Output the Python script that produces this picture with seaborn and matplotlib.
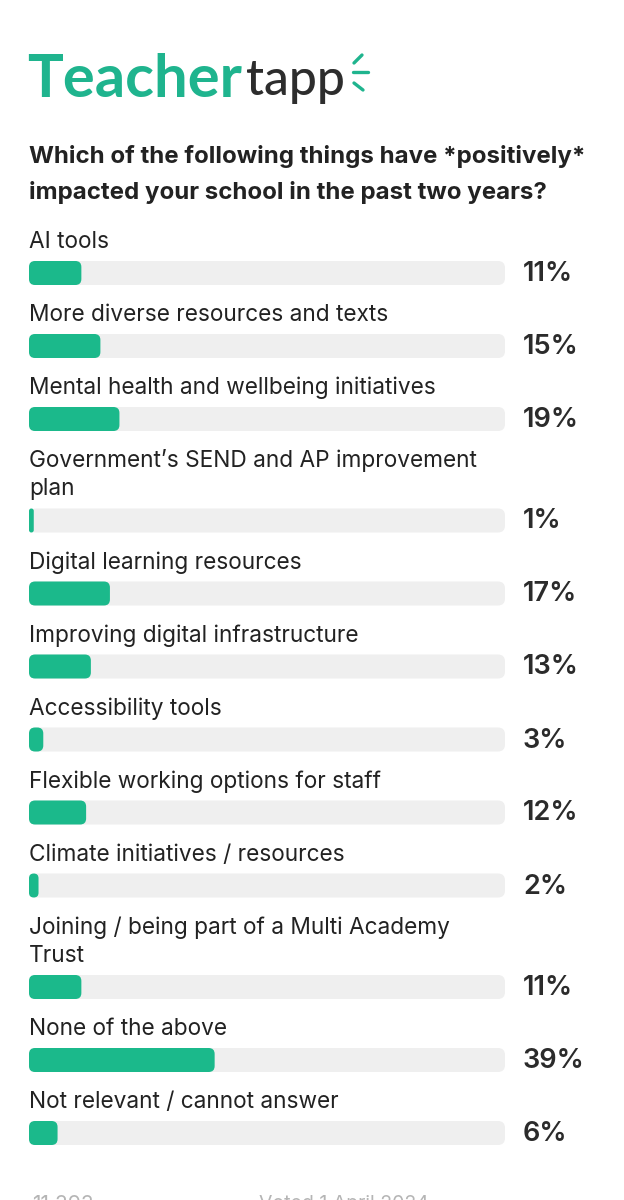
import numpy as np
import pandas as pd
import matplotlib
matplotlib.use("Agg")
import matplotlib.pyplot as plt
from matplotlib.patches import FancyBboxPatch
import seaborn as sns

# ---------------- data ----------------
categories = [
    "AI tools",
    "More diverse resources and texts",
    "Mental health and wellbeing initiatives",
    "Government\u2019s SEND and AP improvement\nplan",
    "Digital learning resources",
    "Improving digital infrastructure",
    "Accessibility tools",
    "Flexible working options for staff",
    "Climate initiatives / resources",
    "Joining / being part of a Multi Academy\nTrust",
    "None of the above",
    "Not relevant / cannot answer",
]
values = [11, 15, 19, 1, 17, 13, 3, 12, 2, 11, 39, 6]
value_labels = ["11%", "15%", "19%", "1%", "17%", "13%", "3%", "12%", "2%", "11%", "39%", "6%"]
title_lines = ["Which of the following things have *positively*",
               "impacted your school in the past two years?"]
footer_left = "11,393"
footer_right = "Voted 1 April 2024"

# ---------------- style ----------------
W, H, DPI = 624, 1200, 100
GREEN = "#1bb98b"
TRACK = "#efefef"
DARK = "#222222"
FONT = ["Inter", "DejaVu Sans"]

sns.set_theme(style="white")
plt.rcParams["font.family"] = FONT

fig = plt.figure(figsize=(W / DPI, H / DPI), dpi=DPI)
fig.patch.set_facecolor("white")

X0_PX, X100_PX = 29, 505
PX_PER_PCT = (X100_PX - X0_PX) / 100.0

ax = fig.add_axes([0, 0, 1, 1])


def fx(x):
    return x / W


def fy(y):
    return 1 - y / H


# ---------------- layout of rows ----------------
LINE_GAP = 28.5
label_y = []
bar_y = []
y = 242.0
for cat in categories:
    n = cat.count("\n") + 1
    label_y.append(y)
    last = y + (n - 1) * LINE_GAP
    b = last + 31.0
    bar_y.append(b)
    y = b + 42.0

df = pd.DataFrame({"pos": bar_y, "value": values, "track": [100] * len(values)})
native = float(np.min(np.diff(np.unique(df["pos"]))))
BAR_H = 24.0
width = BAR_H / native

sns.barplot(data=df, x="track", y="pos", orient="h", native_scale=True,
            color=TRACK, saturation=1, errorbar=None, width=width, ax=ax)
n_track = len(ax.patches)
sns.barplot(data=df, x="value", y="pos", orient="h", native_scale=True,
            color=GREEN, saturation=1, errorbar=None, width=width, ax=ax)

ax.set_xlim(-X0_PX / PX_PER_PCT, (W - X0_PX) / PX_PER_PCT)
ax.set_ylim(H, 0)
ax.axis("off")

# rounded corners
patches = list(ax.patches)
for i, p in enumerate(patches):
    x, yb = p.get_x(), p.get_y()
    w, h = p.get_width(), p.get_height()
    r_px = 7.0 if i < n_track else 6.0
    r = min(r_px / PX_PER_PCT, w / 2.0)
    fb = FancyBboxPatch((x, yb), w, h,
                        boxstyle=f"round,pad=0,rounding_size={r}",
                        mutation_aspect=PX_PER_PCT,
                        facecolor=p.get_facecolor(), edgecolor="none",
                        zorder=1 if i < n_track else 2)
    p.remove()
    ax.add_patch(fb)

# ---------------- text ----------------
for cat, ly in zip(categories, label_y):
    for k, line in enumerate(cat.split("\n")):
        fig.text(fx(29), fy(ly + k * LINE_GAP), line, fontsize=16.3,
                 color=DARK, va="center", ha="left")

for lab, by in zip(value_labels, bar_y):
    fig.text(fx(523), fy(by + 1), lab, fontsize=19.5, color="#2b2b2b",
             fontweight="semibold", va="center", ha="left")

for k, line in enumerate(title_lines):
    fig.text(fx(29), fy(156 + k * 36), line, fontsize=17.3, color=DARK,
             fontweight="bold", va="center", ha="left")

# logo
fig.text(fx(27), fy(97), "Teacher", fontsize=43, color="#1fb48e",
         fontweight="bold", va="baseline", ha="left", family=["Lato", "DejaVu Sans"])
fig.text(fx(246), fy(95), "tapp", fontsize=36, color="#2d2d2d",
         fontweight="medium", va="baseline", ha="left",
         family=["Lato", "DejaVu Sans"])
for (xa, ya, xb, yb2) in [(354, 63, 362, 55), (353, 72, 368, 72), (354, 83, 363, 90)]:
    fig.add_artist(plt.Line2D([fx(xa), fx(xb)], [fy(ya), fy(yb2)],
                              color="#1fb48e", lw=2.4, solid_capstyle="round",
                              transform=fig.transFigure))

# footer (cut off at the bottom of the image, as in the source)
fig.text(fx(32), fy(1195), footer_left, fontsize=15, color="#b5b5b5",
         va="top", ha="left")
fig.text(fx(259), fy(1195), footer_right, fontsize=14, color="#b5b5b5",
         va="top", ha="left")

fig.savefig("out.png", dpi=DPI, facecolor="white")
